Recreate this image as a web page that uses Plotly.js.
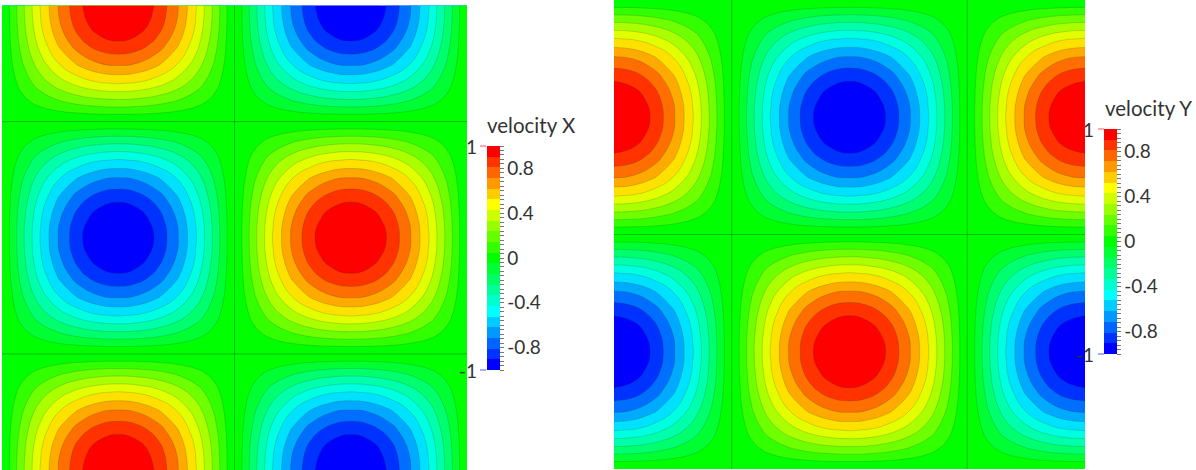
<!DOCTYPE html>
<html><head><meta charset="utf-8">
<script src="https://cdn.plot.ly/plotly-3.0.1.min.js"></script>
<style>html,body{margin:0;padding:0;background:#fff}#chart{width:1196px;height:470px}</style>
</head><body><div id="chart"></div>
<script>
const velocityX = [
[0,.259,.5,.707,.866,.966,1,.966,.866,.707,.5,.259,0,-.259,-.5,-.707,-.866,-.966,-1,-.966,-.866,-.707,-.5,-.259,0],
[0,.25,.483,.683,.837,.933,.966,.933,.837,.683,.483,.25,0,-.25,-.483,-.683,-.837,-.933,-.966,-.933,-.837,-.683,-.483,-.25,0],
[0,.224,.433,.612,.75,.837,.866,.837,.75,.612,.433,.224,0,-.224,-.433,-.612,-.75,-.837,-.866,-.837,-.75,-.612,-.433,-.224,0],
[0,.183,.354,.5,.612,.683,.707,.683,.612,.5,.354,.183,0,-.183,-.354,-.5,-.612,-.683,-.707,-.683,-.612,-.5,-.354,-.183,0],
[0,.129,.25,.354,.433,.483,.5,.483,.433,.354,.25,.129,0,-.129,-.25,-.354,-.433,-.483,-.5,-.483,-.433,-.354,-.25,-.129,0],
[0,.067,.129,.183,.224,.25,.259,.25,.224,.183,.129,.067,0,-.067,-.129,-.183,-.224,-.25,-.259,-.25,-.224,-.183,-.129,-.067,0],
[0,0,0,0,0,0,0,0,0,0,0,0,0,0,0,0,0,0,0,0,0,0,0,0,0],
[0,-.067,-.129,-.183,-.224,-.25,-.259,-.25,-.224,-.183,-.129,-.067,0,.067,.129,.183,.224,.25,.259,.25,.224,.183,.129,.067,0],
[0,-.129,-.25,-.354,-.433,-.483,-.5,-.483,-.433,-.354,-.25,-.129,0,.129,.25,.354,.433,.483,.5,.483,.433,.354,.25,.129,0],
[0,-.183,-.354,-.5,-.612,-.683,-.707,-.683,-.612,-.5,-.354,-.183,0,.183,.354,.5,.612,.683,.707,.683,.612,.5,.354,.183,0],
[0,-.224,-.433,-.612,-.75,-.837,-.866,-.837,-.75,-.612,-.433,-.224,0,.224,.433,.612,.75,.837,.866,.837,.75,.612,.433,.224,0],
[0,-.25,-.483,-.683,-.837,-.933,-.966,-.933,-.837,-.683,-.483,-.25,0,.25,.483,.683,.837,.933,.966,.933,.837,.683,.483,.25,0],
[0,-.259,-.5,-.707,-.866,-.966,-1,-.966,-.866,-.707,-.5,-.259,0,.259,.5,.707,.866,.966,1,.966,.866,.707,.5,.259,0],
[0,-.25,-.483,-.683,-.837,-.933,-.966,-.933,-.837,-.683,-.483,-.25,0,.25,.483,.683,.837,.933,.966,.933,.837,.683,.483,.25,0],
[0,-.224,-.433,-.612,-.75,-.837,-.866,-.837,-.75,-.612,-.433,-.224,0,.224,.433,.612,.75,.837,.866,.837,.75,.612,.433,.224,0],
[0,-.183,-.354,-.5,-.612,-.683,-.707,-.683,-.612,-.5,-.354,-.183,0,.183,.354,.5,.612,.683,.707,.683,.612,.5,.354,.183,0],
[0,-.129,-.25,-.354,-.433,-.483,-.5,-.483,-.433,-.354,-.25,-.129,0,.129,.25,.354,.433,.483,.5,.483,.433,.354,.25,.129,0],
[0,-.067,-.129,-.183,-.224,-.25,-.259,-.25,-.224,-.183,-.129,-.067,0,.067,.129,.183,.224,.25,.259,.25,.224,.183,.129,.067,0],
[0,0,0,0,0,0,0,0,0,0,0,0,0,0,0,0,0,0,0,0,0,0,0,0,0],
[0,.067,.129,.183,.224,.25,.259,.25,.224,.183,.129,.067,0,-.067,-.129,-.183,-.224,-.25,-.259,-.25,-.224,-.183,-.129,-.067,0],
[0,.129,.25,.354,.433,.483,.5,.483,.433,.354,.25,.129,0,-.129,-.25,-.354,-.433,-.483,-.5,-.483,-.433,-.354,-.25,-.129,0],
[0,.183,.354,.5,.612,.683,.707,.683,.612,.5,.354,.183,0,-.183,-.354,-.5,-.612,-.683,-.707,-.683,-.612,-.5,-.354,-.183,0],
[0,.224,.433,.612,.75,.837,.866,.837,.75,.612,.433,.224,0,-.224,-.433,-.612,-.75,-.837,-.866,-.837,-.75,-.612,-.433,-.224,0],
[0,.25,.483,.683,.837,.933,.966,.933,.837,.683,.483,.25,0,-.25,-.483,-.683,-.837,-.933,-.966,-.933,-.837,-.683,-.483,-.25,0],
[0,.259,.5,.707,.866,.966,1,.966,.866,.707,.5,.259,0,-.259,-.5,-.707,-.866,-.966,-1,-.966,-.866,-.707,-.5,-.259,0]
];
const velocityY = [
[0,0,0,0,0,0,0,0,0,0,0,0,0,0,0,0,0,0,0,0,0,0,0,0,0],
[.259,.25,.224,.183,.129,.067,0,-.067,-.129,-.183,-.224,-.25,-.259,-.25,-.224,-.183,-.129,-.067,0,.067,.129,.183,.224,.25,.259],
[.5,.483,.433,.354,.25,.129,0,-.129,-.25,-.354,-.433,-.483,-.5,-.483,-.433,-.354,-.25,-.129,0,.129,.25,.354,.433,.483,.5],
[.707,.683,.612,.5,.354,.183,0,-.183,-.354,-.5,-.612,-.683,-.707,-.683,-.612,-.5,-.354,-.183,0,.183,.354,.5,.612,.683,.707],
[.866,.837,.75,.612,.433,.224,0,-.224,-.433,-.612,-.75,-.837,-.866,-.837,-.75,-.612,-.433,-.224,0,.224,.433,.612,.75,.837,.866],
[.966,.933,.837,.683,.483,.25,0,-.25,-.483,-.683,-.837,-.933,-.966,-.933,-.837,-.683,-.483,-.25,0,.25,.483,.683,.837,.933,.966],
[1,.966,.866,.707,.5,.259,0,-.259,-.5,-.707,-.866,-.966,-1,-.966,-.866,-.707,-.5,-.259,0,.259,.5,.707,.866,.966,1],
[.966,.933,.837,.683,.483,.25,0,-.25,-.483,-.683,-.837,-.933,-.966,-.933,-.837,-.683,-.483,-.25,0,.25,.483,.683,.837,.933,.966],
[.866,.837,.75,.612,.433,.224,0,-.224,-.433,-.612,-.75,-.837,-.866,-.837,-.75,-.612,-.433,-.224,0,.224,.433,.612,.75,.837,.866],
[.707,.683,.612,.5,.354,.183,0,-.183,-.354,-.5,-.612,-.683,-.707,-.683,-.612,-.5,-.354,-.183,0,.183,.354,.5,.612,.683,.707],
[.5,.483,.433,.354,.25,.129,0,-.129,-.25,-.354,-.433,-.483,-.5,-.483,-.433,-.354,-.25,-.129,0,.129,.25,.354,.433,.483,.5],
[.259,.25,.224,.183,.129,.067,0,-.067,-.129,-.183,-.224,-.25,-.259,-.25,-.224,-.183,-.129,-.067,0,.067,.129,.183,.224,.25,.259],
[0,0,0,0,0,0,0,0,0,0,0,0,0,0,0,0,0,0,0,0,0,0,0,0,0],
[-.259,-.25,-.224,-.183,-.129,-.067,0,.067,.129,.183,.224,.25,.259,.25,.224,.183,.129,.067,0,-.067,-.129,-.183,-.224,-.25,-.259],
[-.5,-.483,-.433,-.354,-.25,-.129,0,.129,.25,.354,.433,.483,.5,.483,.433,.354,.25,.129,0,-.129,-.25,-.354,-.433,-.483,-.5],
[-.707,-.683,-.612,-.5,-.354,-.183,0,.183,.354,.5,.612,.683,.707,.683,.612,.5,.354,.183,0,-.183,-.354,-.5,-.612,-.683,-.707],
[-.866,-.837,-.75,-.612,-.433,-.224,0,.224,.433,.612,.75,.837,.866,.837,.75,.612,.433,.224,0,-.224,-.433,-.612,-.75,-.837,-.866],
[-.966,-.933,-.837,-.683,-.483,-.25,0,.25,.483,.683,.837,.933,.966,.933,.837,.683,.483,.25,0,-.25,-.483,-.683,-.837,-.933,-.966],
[-1,-.966,-.866,-.707,-.5,-.259,0,.259,.5,.707,.866,.966,1,.966,.866,.707,.5,.259,0,-.259,-.5,-.707,-.866,-.966,-1],
[-.966,-.933,-.837,-.683,-.483,-.25,0,.25,.483,.683,.837,.933,.966,.933,.837,.683,.483,.25,0,-.25,-.483,-.683,-.837,-.933,-.966],
[-.866,-.837,-.75,-.612,-.433,-.224,0,.224,.433,.612,.75,.837,.866,.837,.75,.612,.433,.224,0,-.224,-.433,-.612,-.75,-.837,-.866],
[-.707,-.683,-.612,-.5,-.354,-.183,0,.183,.354,.5,.612,.683,.707,.683,.612,.5,.354,.183,0,-.183,-.354,-.5,-.612,-.683,-.707],
[-.5,-.483,-.433,-.354,-.25,-.129,0,.129,.25,.354,.433,.483,.5,.483,.433,.354,.25,.129,0,-.129,-.25,-.354,-.433,-.483,-.5],
[-.259,-.25,-.224,-.183,-.129,-.067,0,.067,.129,.183,.224,.25,.259,.25,.224,.183,.129,.067,0,-.067,-.129,-.183,-.224,-.25,-.259],
[0,0,0,0,0,0,0,0,0,0,0,0,0,0,0,0,0,0,0,0,0,0,0,0,0]
];
const bandColors = [
'#0000ff','#0032ff','#006eff','#00aaff','#00e1ff','#00ffe1','#00ffaa','#00ff6e','#00ff32','#00ff00',
'#00ff00','#32ff00','#6eff00','#aaff00','#e1ff00','#ffe100','#ffaa00','#ff6e00','#ff3200','#ff0000'
];
const barColors = [
'#0000ff','#0033ff','#0066ff','#0099ff','#00ccff','#00ffff','#00ffcc','#00ff99','#00ff66','#00ff33','#00ff00',
'#33ff00','#66ff00','#99ff00','#ccff00','#ffff00','#ffcc00','#ff9900','#ff6600','#ff3300','#ff0000'
];
const barTickValues = [-1,-.96,-.92,-.88,-.84,-.8,-.76,-.72,-.68,-.64,-.6,-.56,-.52,-.48,-.44,-.4,-.36,-.32,-.28,-.24,-.2,-.16,-.12,-.08,-.04,0,.04,.08,.12,.16,.2,.24,.28,.32,.36,.4,.44,.48,.52,.56,.6,.64,.68,.72,.76,.8,.84,.88,.92,.96,1];
const labelledTicks = {'-0.8':'-0.8','-0.4':'-0.4','0':'0','0.4':'0.4','0.8':'0.8'};
const zeroLinesLeft = {cols:[12],rows:[6,18]};
const zeroLinesRight = {cols:[6,18],rows:[12]};

const W = 1196, H = 470;
const FONT = 'Lato, "Open Sans", sans-serif';
const colorscale = bandColors.map((c,i)=>[i/(bandColors.length-1),c]);
const barScale = barColors.flatMap((c,i)=>[[i/barColors.length,c],[(i+1)/barColors.length,c]]);
const ticktext = barTickValues.map(v=>labelledTicks[String(v)]||'');
const lineStyle = {color:'rgba(0,60,0,0.22)',width:0.8,smoothing:1.3};

function panel(z,xa,ya,barLeft,barTop,barLen){
  return [
    {type:'heatmap',z,xaxis:xa,yaxis:ya,colorscale:barScale,zmin:-1,zmax:1,hoverinfo:'skip',
     colorbar:{x:barLeft/W,xanchor:'left',xpad:0,ypad:0,y:1-barTop/H,yanchor:'top',
       lenmode:'pixels',len:barLen,thicknessmode:'pixels',thickness:13,outlinewidth:0,borderwidth:0,
       tickmode:'array',tickvals:barTickValues,ticktext,ticks:'outside',ticklen:4,tickwidth:1,tickcolor:'#777',
       tickfont:{family:FONT,size:19,color:'#333'}}},
    {type:'contour',z,xaxis:xa,yaxis:ya,colorscale,showscale:false,autocontour:false,
     contours:{start:-.882,end:.882,size:.098,coloring:'fill',showlines:false},line:{width:0,smoothing:1.3},hoverinfo:'skip'},
    {type:'contour',z,xaxis:xa,yaxis:ya,showscale:false,autocontour:false,
     contours:{start:-.882,end:-.098,size:.098,coloring:'none'},line:lineStyle,hoverinfo:'skip'},
    {type:'contour',z,xaxis:xa,yaxis:ya,showscale:false,autocontour:false,
     contours:{start:.098,end:.882,size:.098,coloring:'none'},line:lineStyle,hoverinfo:'skip'}
  ];
}
const data = [...panel(velocityX,'x','y',486.5,146,224),...panel(velocityY,'x2','y2',1104,129,225)];

const axis = {visible:false,showgrid:false,zeroline:false,range:[0,24],fixedrange:true};
const ann = (text,x,y,anchor,size)=>({text,xref:'paper',yref:'paper',x:x/W,y:1-y/H,xanchor:anchor,yanchor:'middle',
  showarrow:false,font:{family:FONT,size,color:'#333'}});
const seg = (x0,x1,y,color)=>({type:'line',xref:'paper',yref:'paper',x0:x0/W,x1:x1/W,y0:1-y/H,y1:1-y/H,line:{color,width:1}});
const zeroShapes = (z,xref,yref)=>[
  ...z.cols.map(c=>({type:'line',xref,yref,x0:c,x1:c,y0:0,y1:24,line:{color:'rgba(0,110,0,0.45)',width:1}})),
  ...z.rows.map(r=>({type:'line',xref,yref,x0:0,x1:24,y0:r,y1:r,line:{color:'rgba(0,110,0,0.45)',width:1}}))
];

const layout = {
  width:W,height:H,margin:{l:0,r:0,t:0,b:0,pad:0,autoexpand:false},paper_bgcolor:'#fff',plot_bgcolor:'#fff',showlegend:false,
  xaxis:{...axis,domain:[2/W,467/W],anchor:'y'},
  yaxis:{...axis,domain:[0,1-5.5/H],anchor:'x',range:[24,0]},
  xaxis2:{...axis,domain:[614/W,1085/W],anchor:'y2'},
  yaxis2:{...axis,domain:[1-469/H,1],anchor:'x2',range:[24,0]},
  annotations:[
    ann('velocity X',485,125,'left',20.5),ann('velocity Y',1103,108,'left',20.5),
    ann('1',479,146,'right',19),ann('-1',479,370,'right',19),
    ann('1',1096,129,'right',19),ann('-1',1096,354,'right',19)
  ],
  shapes:[...zeroShapes(zeroLinesLeft,'x','y'),...zeroShapes(zeroLinesRight,'x2','y2'),
    seg(480,486,146,'#f55'),seg(480,486,370,'#55f'),seg(1098,1104,129,'#f55'),seg(1098,1104,354,'#55f')]
};
Plotly.newPlot('chart',data,layout,{displayModeBar:false,staticPlot:true});
</script></body></html>
